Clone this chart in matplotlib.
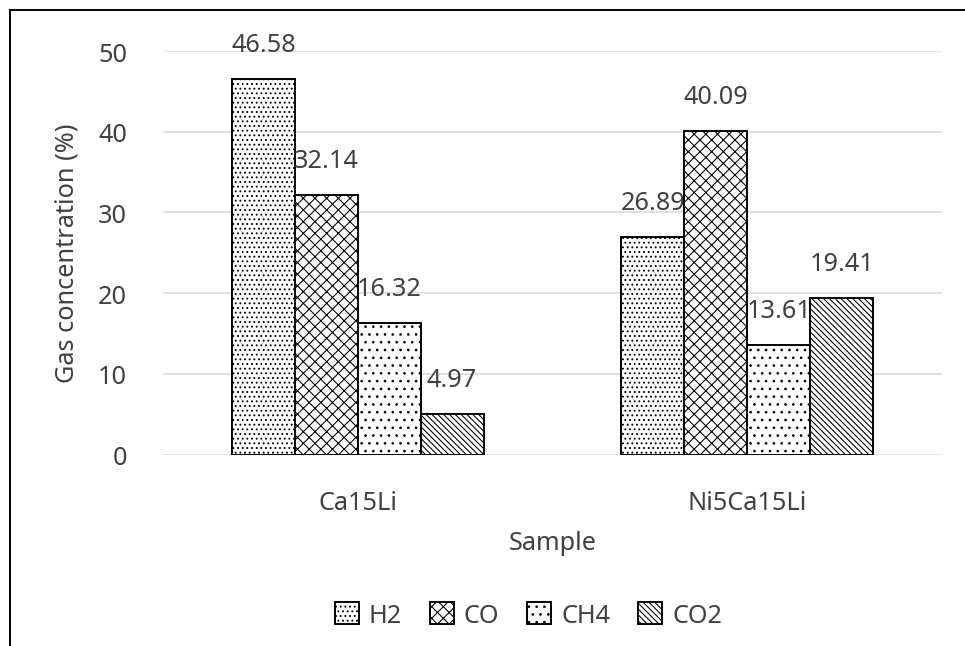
import matplotlib
matplotlib.use("Agg")
import matplotlib.pyplot as plt
from matplotlib.patches import Rectangle
import numpy as np

# Gas composition per sample (%)
samples = ["Ca15Li", "Ni5Ca15Li"]
gases = ["H2", "CO", "CH4", "CO2"]
h2 = [46.58, 26.89]
co = [32.14, 40.09]
ch4 = [16.32, 13.61]
co2 = [4.97, 19.41]
yticks = [0, 10, 20, 30, 40, 50]

series = [h2, co, ch4, co2]
hatches = [".....", "xxxx", "...", "\\" * 8]

DPI = 140
plt.rcParams["font.family"] = ["Noto Sans", "DejaVu Sans"]
plt.rcParams["hatch.linewidth"] = 0.55
plt.rcParams["hatch.color"] = "black"
TXT = "#404040"
FS = 13

fig = plt.figure(figsize=(965 / DPI, 647 / DPI), dpi=DPI)
ax = fig.add_axes([163 / 965, 1 - 455.5 / 647, (942 - 163) / 965, (455.5 - 52) / 647])

x = np.arange(len(samples))
w = 0.1615
for i, (vals, name, hat) in enumerate(zip(series, gases, hatches)):
    pos = x + (i - 1.5) * w
    bars = ax.bar(pos, vals, width=w, color="white", edgecolor="black",
                  linewidth=1.0, hatch=hat, label=name, zorder=3)
    for b, v in zip(bars, vals):
        ax.annotate(f"{v:.2f}", (b.get_x() + b.get_width() / 2, v),
                    xytext=(0, 14.4), textcoords="offset points",
                    ha="center", va="baseline", fontsize=FS, color=TXT,
                    annotation_clip=False)

ax.set_xlim(-0.5, 1.5)
ax.set_ylim(0, 50)
ax.set_yticks(yticks)
ax.set_yticklabels([str(t) for t in yticks])
ax.set_xticks(x)
ax.set_xticklabels(samples)
for lab in ax.get_xticklabels():
    lab.set_verticalalignment("baseline")
ax.tick_params(axis="x", length=0, pad=28, labelsize=FS, labelcolor=TXT)
ax.tick_params(axis="y", length=0, pad=18.5, labelsize=FS, labelcolor=TXT)
ax.grid(axis="y", color="#d9d9d9", linewidth=0.8, zorder=0)
for s in ax.spines.values():
    s.set_visible(False)

fig.text(552.5 / 965, 1 - 550 / 647, "Sample", ha="center", va="baseline",
         fontsize=FS, color=TXT)
fig.text(67 / 965, 1 - 253.7 / 647, "Gas concentration (%)", rotation=90,
         ha="center", va="center", fontsize=FS, color=TXT)

fig.legend(loc="center", bbox_to_anchor=(528.5 / 965, 1 - 616 / 647),
           ncol=4, frameon=False, fontsize=FS, labelcolor=TXT,
           handlelength=0.95, handleheight=0.95, handletextpad=0.4,
           columnspacing=1.1, borderpad=0)

# chart-area border
fig.patches.append(Rectangle((9.5 / 965, -0.1), 1.2, 1.1 - 10.7 / 647,
                             transform=fig.transFigure, fill=False,
                             edgecolor="black", linewidth=1.0))

fig.savefig("out.png", dpi=DPI, facecolor="white")
